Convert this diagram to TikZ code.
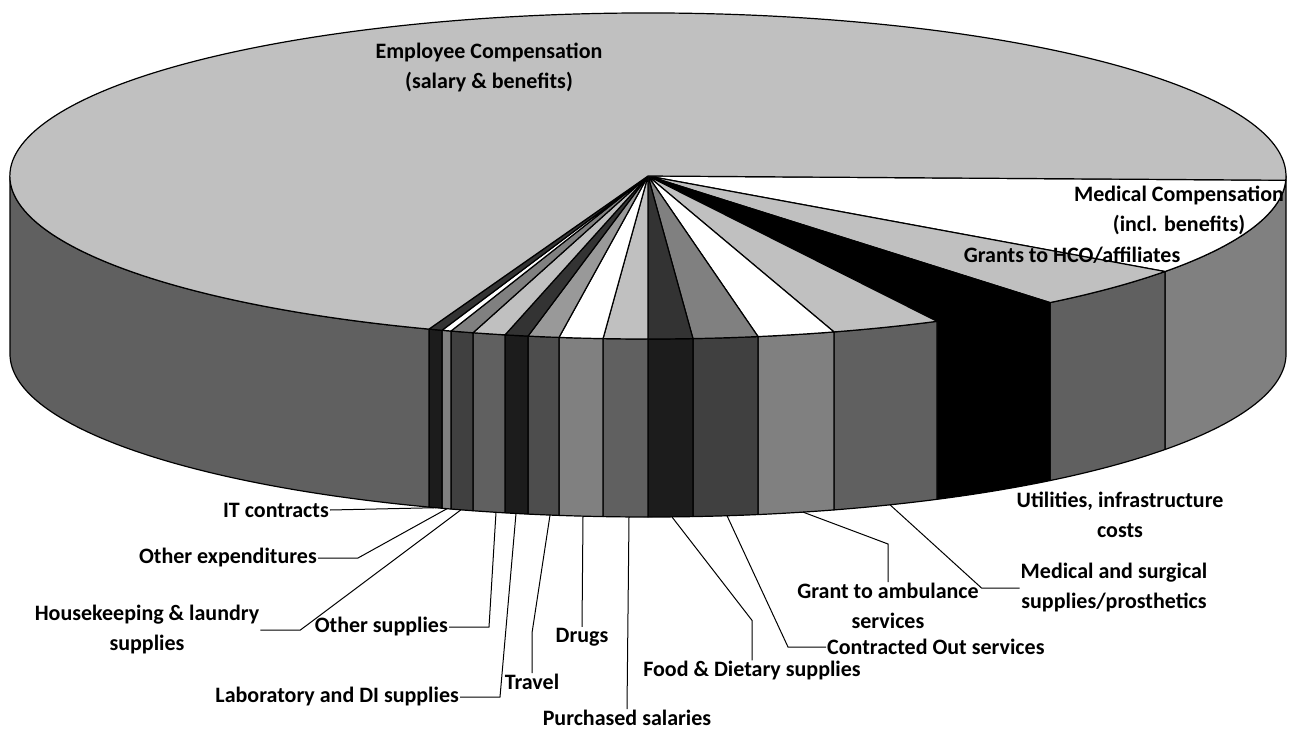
\documentclass[tikz,border=0pt]{standalone}
\usepackage{fontspec}
\setmainfont{Carlito}
\definecolor{topA}{HTML}{C0C0C0}
\definecolor{wallA}{HTML}{606060}
\definecolor{wallW}{HTML}{808080}
\definecolor{topG}{HTML}{808080}
\definecolor{wallG}{HTML}{404040}
\definecolor{topD}{HTML}{333333}
\definecolor{wallD}{HTML}{1C1C1C}
\definecolor{topM}{HTML}{999999}
\definecolor{wallM}{HTML}{4D4D4D}
\begin{document}
\begin{tikzpicture}[x=1pt,y=-1pt,
    lbl/.style={font=\fontsize{22}{30}\selectfont\bfseries,inner sep=1pt,align=center},
    slc/.style={draw=black,line width=1.2pt,line join=round},
    ldr/.style={draw=black,line width=1pt}]
  \useasboundingbox (0,0) rectangle (1289,730);
  % side wall of the pie (front half only)
  \foreach \a/\b/\w in {0/35.87/wallW, 35.87/50.94/wallA, 50.94/63.06/black,
      63.06/73.05/wallA, 73.05/80.07/wallW, 80.07/85.96/wallG, 85.96/90/wallD,
      90/94.04/wallA, 94.04/98.02/wallW, 98.02/100.84/wallM, 100.84/102.95/wallD,
      102.95/105.92/wallA, 105.92/107.99/wallG, 107.99/108.84/wallW,
      108.84/110.08/wallD, 110.08/180/wallA}
    \filldraw[slc,fill=\w,shift={(648,176)}] (\a:638 and 163)
      arc[start angle=\a,end angle=\b,x radius=638,y radius=163] -- ++(0,178)
      arc[start angle=\b,end angle=\a,x radius=638,y radius=163] -- cycle;
  % top face
  \foreach \a/\b/\t in {1.5/35.87/white, 35.87/50.94/topA, 50.94/63.06/black,
      63.06/73.05/topA, 73.05/80.07/white, 80.07/85.96/topG, 85.96/90/topD,
      90/94.04/topA, 94.04/98.02/white, 98.02/100.84/topM, 100.84/102.95/topD,
      102.95/105.92/topA, 105.92/107.99/topG, 107.99/108.84/white,
      108.84/110.08/topD, 110.08/361.5/topA}
    \filldraw[slc,fill=\t,shift={(648,176)}] (0,0) -- (\a:638 and 163)
      arc[start angle=\a,end angle=\b,x radius=638,y radius=163] -- cycle;

  % labels on the pie
  \node[lbl] (emp) at (489,67) {Employee Compensation\\(salary \& benefits)};
  \node[lbl] (mco) at (1179,210) {Medical Compensation\\(incl. benefits)};
  \node[lbl] (hco) at (1072,255) {Grants to HCO/affiliates};
  \node[lbl] (uti) at (1120,515) {Utilities, infrastructure\\costs};

  % ends of the leaders on the bottom rim
  \coordinate (itb) at (436,507.7);
  \coordinate (oeb) at (447,508.7);
  \coordinate (hkb) at (461,509.8);
  \coordinate (osb) at (496,512.3);
  \coordinate (lbb) at (516,513.5);
  \coordinate (trb) at (550,515.1);
  \coordinate (drb) at (583,516.2);
  \coordinate (pub) at (629,517);
  \coordinate (fdb) at (672,517);
  \coordinate (cob) at (727,515.7);
  \coordinate (gab) at (803,512.1);
  \coordinate (msb) at (890,504.8);

  % labels below the pie
  \node[lbl,anchor=east] (itc) at (330,510) {IT contracts};
  \node[lbl,anchor=east] (oex) at (318,558) {Other expenditures};
  \node[lbl] (hsk) at (147,630) {Housekeeping \& laundry\\supplies};
  \node[lbl,anchor=east] (osu) at (449,627) {Other supplies};
  \node[lbl,anchor=east] (lab) at (460,697) {Laboratory and DI supplies};
  \node[lbl] (trv) at (532,682) {Travel};
  \node[lbl] (drg) at (582,637) {Drugs};
  \node[lbl] (pur) at (627,718) {Purchased salaries};
  \node[lbl] (fod) at (752,671) {Food \& Dietary supplies};
  \node[lbl,anchor=west] (cos) at (826,647) {Contracted Out services};
  \node[lbl] (gra) at (888,606) {Grant to ambulance\\services};
  \node[lbl] (msu) at (1114,588) {Medical and surgical\\supplies/prosthetics};

  % leaders
  \draw[ldr] (itc.east) -- (itb);
  \draw[ldr] (oex.east) -- ++(40,0) -- (oeb);
  \draw[ldr] (hsk.east) -- ++(40,0) -- (hkb);
  \draw[ldr] (osu.east) -- ++(40,0) -- (osb);
  \draw[ldr] (lab.east) -- ++(40,0) -- (lbb);
  \draw[ldr] (trv.north) -- ++(0,-40) -- (trb);
  \draw[ldr] (drg.north) -- (drb);
  \draw[ldr] (pur.north) -- (pub);
  \draw[ldr] (fod.north) -- ++(0,-40) -- (fdb);
  \draw[ldr] (cos.west) -- ++(-38,0) -- (cob);
  \draw[ldr] (gra.north) -- ++(0,-38) -- (gab);
  \draw[ldr] (msu.west) -- ++(-38,0) -- (msb);
\end{tikzpicture}
\end{document}
